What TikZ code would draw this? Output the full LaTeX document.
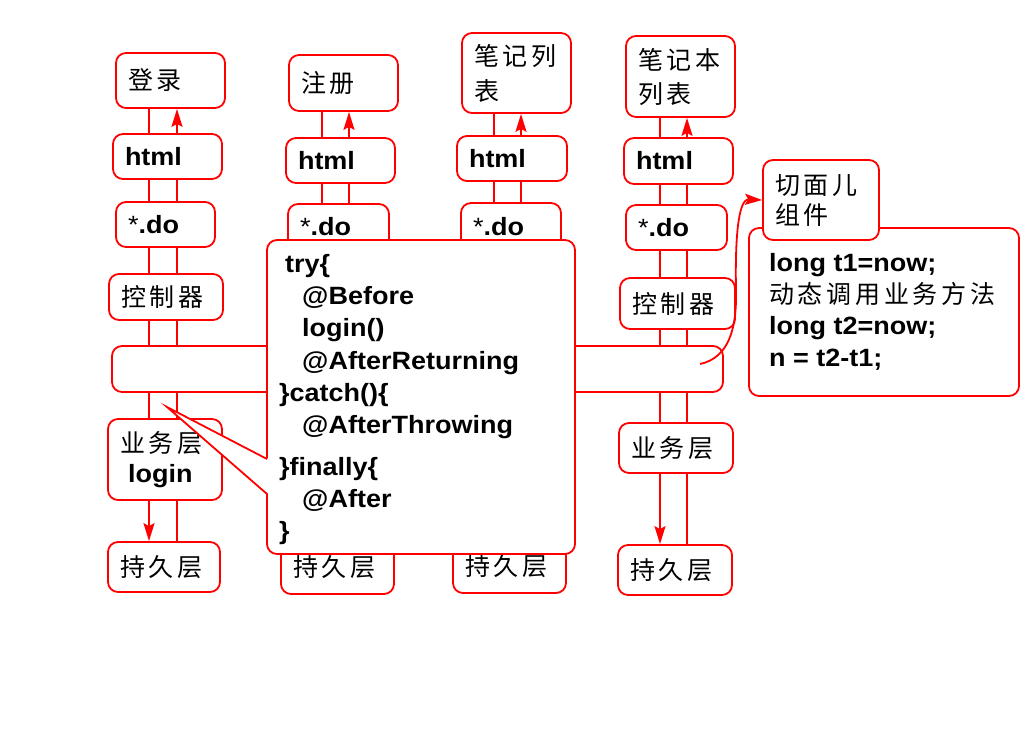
\documentclass[tikz,border=0pt]{standalone}
\usepackage{fontspec}
\setmainfont{Liberation Sans}[FakeStretch=1.08]
\newfontfamily\cjk{Noto Sans CJK SC}[LetterSpace=15]
\usetikzlibrary{arrows.meta}
\newcommand\lat{\normalfont\fontsize{25}{32}\selectfont\bfseries}
\newcommand\zhf{\cjk\mdseries\fontsize{25}{32}\selectfont}
\newcommand\mybox[7][]{%
  \pgfmathsetmacro\mybw{#5-#3}%
  \pgfmathsetmacro\mybh{#6-#4}%
  \pgfmathsetmacro\mytw{#5-#3-24}%
  \node[bx, minimum width=\mybw pt, minimum height=\mybh pt, text width=\mytw pt, #1] (#2) at ({(#3+#5)/2},{(#4+#6)/2}) {#7};}
\tikzset{
  red line/.style={draw=red, line width=1.8pt},
  bx/.style={draw=red, line width=1.8pt, rounded corners=10pt, fill=white, inner xsep=12pt, inner ysep=0pt, align=left, font=\lat},
  uparr/.style={red line, arrows={-Stealth[length=18pt, width=11pt, inset=3pt]}},
  txt/.style={inner sep=0pt, anchor=base west, font=\lat},
}
\begin{document}
\begin{tikzpicture}[x=1pt,y=-1pt]
\useasboundingbox[fill=white] (0,0) rectangle (1024,728);
% column x positions
\coordinate (a1) at (149,0); \coordinate (b1) at (177,0);
\coordinate (a2) at (322,0); \coordinate (b2) at (349,0);
\coordinate (a3) at (494,0); \coordinate (b3) at (521,0);
\coordinate (a4) at (660,0); \coordinate (b4) at (687,0);
% column 1
\mybox[font=\zhf]{d1}{116}{53}{225}{108}{登录}
\mybox{h1}{113}{134}{222}{179}{html}
\mybox{o1}{116}{202}{215}{247}{{\mdseries*}.do}
\mybox[font=\zhf]{k1}{109}{274}{223}{320}{控制器}
\mybox[font={\zhf\fontsize{25}{30}\selectfont}]{y1}{108}{419}{222}{500}{业务层\\\hspace*{8pt}{\lat login}}
\mybox[font=\zhf]{p1}{108}{542}{220}{592}{持久层}
% column 2
\mybox[font=\zhf]{d2}{289}{55}{398}{111}{注册}
\mybox{h2}{286}{138}{395}{183}{html}
\mybox{o2}{288}{204}{389}{250}{{\mdseries*}.do}
\mybox[font=\zhf]{p2}{281}{540}{394}{594}{持久层}
% column 3
\mybox[font={\zhf\fontsize{25}{35}\selectfont}]{d3}{462}{33}{571}{113}{笔记列\\表}
\mybox{h3}{457}{136}{567}{181}{html}
\mybox{o3}{461}{203}{561}{250}{{\mdseries*}.do}
\mybox[font=\zhf]{p3}{453}{540}{566}{593}{持久层}
% column 4
\mybox[font={\zhf\fontsize{25}{34}\selectfont}]{d4}{626}{36}{735}{117}{笔记本\\列表}
\mybox{h4}{624}{138}{733}{184}{html}
\mybox{o4}{626}{205}{727}{250}{{\mdseries*}.do}
\mybox[font=\zhf]{k4}{620}{278}{735}{329}{控制器}
\mybox[font=\zhf]{y4}{619}{423}{733}{473}{业务层}
\mybox[font=\zhf]{p4}{618}{545}{732}{595}{持久层}
% connectors column 1
\draw[red line] (h1.north -| a1) -- (d1.south -| a1);
\draw[uparr] (h1.north -| b1) -- (d1.south -| b1);
\draw[red line] (h1.south -| a1) -- (o1.north -| a1);
\draw[red line] (h1.south -| b1) -- (o1.north -| b1);
\draw[red line] (o1.south -| a1) -- (k1.north -| a1);
\draw[red line] (o1.south -| b1) -- (k1.north -| b1);
% column 2
\draw[red line] (h2.north -| a2) -- (d2.south -| a2);
\draw[uparr] (h2.north -| b2) -- (d2.south -| b2);
\draw[red line] (h2.south -| a2) -- (o2.north -| a2);
\draw[red line] (h2.south -| b2) -- (o2.north -| b2);
% column 3
\draw[red line] (h3.north -| a3) -- (d3.south -| a3);
\draw[uparr] (h3.north -| b3) -- (d3.south -| b3);
\draw[red line] (h3.south -| a3) -- (o3.north -| a3);
\draw[red line] (h3.south -| b3) -- (o3.north -| b3);
% column 4
\draw[red line] (h4.north -| a4) -- (d4.south -| a4);
\draw[uparr] (h4.north -| b4) -- (d4.south -| b4);
\draw[red line] (h4.south -| a4) -- (o4.north -| a4);
\draw[red line] (h4.south -| b4) -- (o4.north -| b4);
\draw[red line] (o4.south -| a4) -- (k4.north -| a4);
\draw[red line] (o4.south -| b4) -- (k4.north -| b4);
% bar
\mybox{bar}{112}{346}{723}{392}{}
\draw[red line] (k1.south -| a1) -- (bar.north -| a1);
\draw[red line] (k1.south -| b1) -- (bar.north -| b1);
\draw[red line] (bar.south -| a1) -- (y1.north -| a1);
\draw[red line] (bar.south -| b1) -- (y1.north -| b1);
\draw[uparr] (y1.south -| a1) -- (p1.north -| a1);
\draw[red line] (y1.south -| b1) -- (p1.north -| b1);
\draw[red line] (k4.south -| a4) -- (bar.north -| a4);
\draw[red line] (k4.south -| b4) -- (bar.north -| b4);
\draw[red line] (bar.south -| a4) -- (y4.north -| a4);
\draw[red line] (bar.south -| b4) -- (y4.north -| b4);
\draw[uparr] (y4.south -| a4) -- (p4.north -| a4);
\draw[red line] (y4.south -| b4) -- (p4.north -| b4);
% callout
\mybox{co}{267}{240}{575}{554}{}
\coordinate (tip) at (167,407);
\coordinate (pu) at (267,459);
\coordinate (pl) at (267,494);
\fill[white] ([xshift=1.5pt]pu) -- (tip) -- ([xshift=1.5pt]pl) -- cycle;
\draw[red line, line join=miter] (pu) -- (tip) -- (pl);
\node[txt] (c1) at (285,272) {try\{};
\node[txt] (c2) at (302,304) {@Before};
\node[txt] (c3) at (302,336) {login()};
\node[txt] (c4) at (302,369) {@AfterReturning};
\node[txt] (c5) at (279,401) {\}catch()\{};
\node[txt] (c6) at (302,433) {@AfterThrowing};
\node[txt] (c7) at (279,475) {\}finally\{};
\node[txt] (c8) at (302,507) {@After};
\node[txt] (c9) at (279,539) {\}};
% aspect
\mybox{bb}{749}{228}{1019}{396}{}
\mybox[font={\zhf\fontsize{25}{30}\selectfont}]{ap}{763}{160}{879}{240}{切面儿\\组件}
\node[txt] (t1) at (769,271) {long t1=now;};
\node[txt, font=\zhf] (t2) at (769,303) {动态调用业务方法};
\node[txt] (t3) at (769,334) {long t2=now;};
\node[txt] (t4) at (769,366) {n = t2-t1;};
\coordinate (cs) at (700,364);
\draw[red line, arrows={-Stealth[length=17pt, width=11pt, inset=3pt]}] (cs) .. controls (728,358) and (737,330) .. (736,290) .. controls (735,240) and (738,199) .. (ap.west);
\end{tikzpicture}
\end{document}
